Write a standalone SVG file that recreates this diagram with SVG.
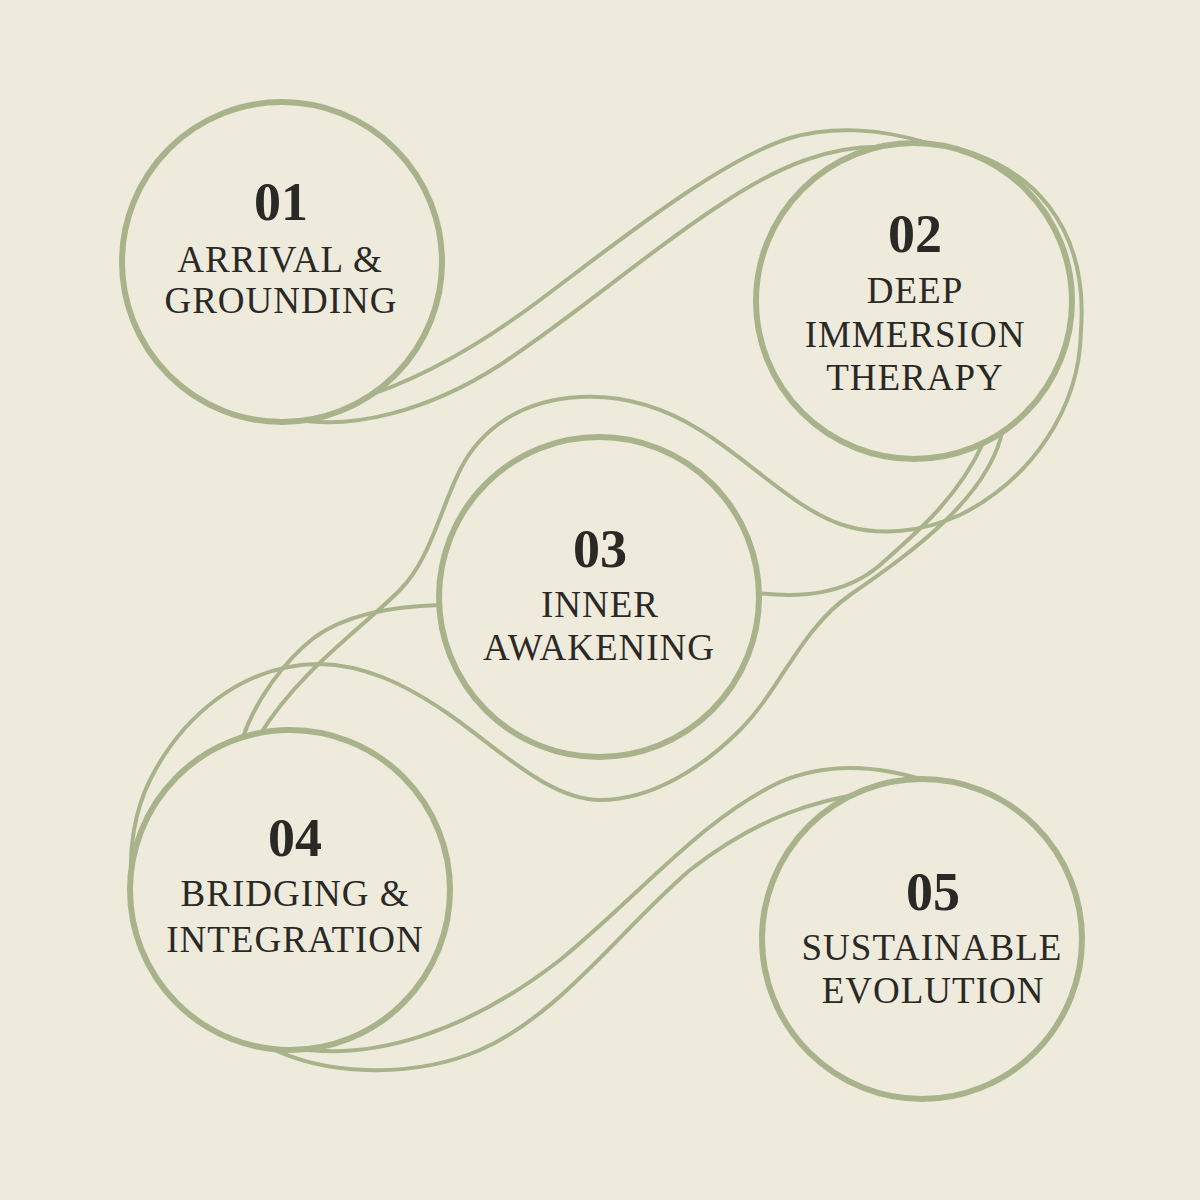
<svg xmlns="http://www.w3.org/2000/svg" width="1200" height="1200" viewBox="0 0 1200 1200">
<style>
.bg{fill:#EFEBDC}
.ring{fill:#EFEBDC;stroke:#A9B38B;stroke-width:6}
.link{fill:none;stroke:#A9B38B;stroke-width:4;stroke-linecap:round}
.num{font-family:"Liberation Serif","Times New Roman",serif;font-size:54px;font-weight:600;fill:#2A2926;text-anchor:middle}
.lbl{font-family:"Liberation Serif","Times New Roman",serif;font-size:37px;letter-spacing:1px;fill:#2A2926;text-anchor:middle}
</style>
<rect class="bg" x="0" y="0" width="1200" height="1200"/>
<g id="connectors">
<path class="link" d="M357,399 C420,380 480,345 540,300 C620,240 720,160 790,138 C830,126 880,128 927,143 C1040,158 1088,235 1081,330 C1080,410 1030,480 960,515 C920,533 880,535 850,527 C800,515 750,460 700,430 C660,405 620,395 580,397 C520,400 480,430 460,470 C440,510 430,560 400,590 C360,630 300,670 259,736"/>
<path class="link" d="M290,418 C350,432 430,410 500,365 C580,312 650,250 720,205 C780,165 830,145 887,147"/>
<path class="link" d="M757,593 C800,598 845,595 880,565 C920,530 960,495 984,441"/>
<path class="link" d="M1003,428 C990,500 900,560 850,595 C800,630 780,690 740,730 C700,770 650,800 600,800 C550,800 500,750 450,715 C400,680 360,665 320,664 C240,664 180,720 150,780 C135,810 128,850 132,885"/>
<path class="link" d="M441,605 C400,606 350,612 315,637 C285,660 255,700 242,740"/>
<path class="link" d="M285,1046 C370,1065 470,1030 560,960 C640,895 700,820 780,782 C820,765 870,762 930,782"/>
<path class="link" d="M265,1045 C320,1075 410,1080 480,1050 C560,1015 620,930 690,870 C760,815 820,800 866,793"/>
</g>
<g id="node-01">
<circle class="ring" cx="282" cy="262" r="160"/>
<text class="num" x="281" y="220">01</text>
<text class="lbl" x="280" y="272">ARRIVAL &amp;</text>
<text class="lbl" x="281" y="313">GROUNDING</text>
</g>
<g id="node-02">
<circle class="ring" cx="914" cy="301" r="158"/>
<text class="num" x="915" y="252">02</text>
<text class="lbl" x="915" y="303">DEEP</text>
<text class="lbl" x="915" y="347">IMMERSION</text>
<text class="lbl" x="915" y="390">THERAPY</text>
</g>
<g id="node-03">
<circle class="ring" cx="599" cy="597" r="160"/>
<text class="num" x="600" y="567">03</text>
<text class="lbl" x="600" y="617">INNER</text>
<text class="lbl" x="599" y="660">AWAKENING</text>
</g>
<g id="node-04">
<circle class="ring" cx="290" cy="890" r="160"/>
<text class="num" x="295" y="856">04</text>
<text class="lbl" x="295" y="906">BRIDGING &amp;</text>
<text class="lbl" x="295" y="952">INTEGRATION</text>
</g>
<g id="node-05">
<circle class="ring" cx="922" cy="939" r="160"/>
<text class="num" x="933" y="910">05</text>
<text class="lbl" x="932" y="960">SUSTAINABLE</text>
<text class="lbl" x="933" y="1003">EVOLUTION</text>
</g>
</svg>
